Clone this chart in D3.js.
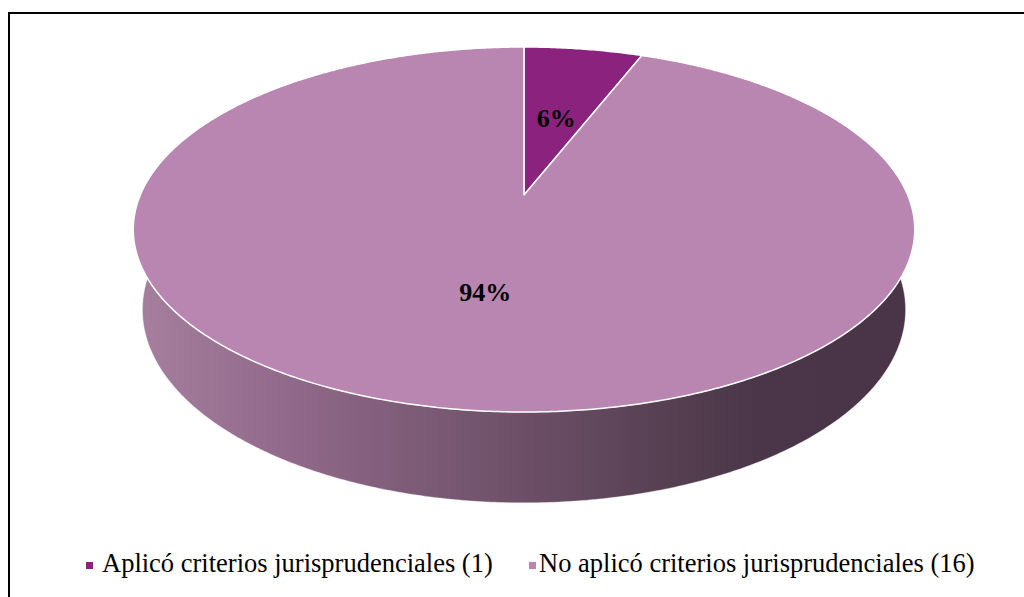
<!DOCTYPE html>
<html>
<head>
<meta charset="utf-8">
<script src="https://cdn.jsdelivr.net/npm/d3@7"></script>
<style>
  html, body { margin: 0; padding: 0; background: #fff; }
  svg { display: block; }
</style>
</head>
<body>
<svg id="pie3d" width="1024" height="597"></svg>
<script>
// ---- data ----
const categories = ["Aplicó criterios jurisprudenciales", "No aplicó criterios jurisprudenciales"];
const counts = [1, 16];
const percentLabels = ["6%", "94%"];
const topColors = ["#8B237E", "#B985B1"];

// ---- layout / projection ----
const FONT = '"Liberation Serif"';
const svg = d3.select("#pie3d");
const cx = 524, cy = 195;
const phi = 27.3 * Math.PI / 180;
const sn = Math.sin(phi), cs = Math.cos(phi);
const Dcam = 5.29 * cs;
const f = 148 * (Dcam + cs) / sn;
const hgt = 0.237;

// project a point on the pie (radius r, angle a clockwise from back, height y)
function project(r, a, y) {
  const x = r * Math.sin(a), z = -r * Math.cos(a);
  const yc = z * sn - y * cs;
  const dc = Dcam - z * cs - y * sn;
  return [cx + f * x / dc, cy + f * yc / dc];
}

const pie = d3.pie().sort(null).value(d => d)(counts);

// frame
svg.append("rect").attr("x", 9).attr("y", 13).attr("width", 1040).attr("height", 620)
  .attr("fill", "none").attr("stroke", "#000").attr("stroke-width", 2);

// side gradient
const defs = svg.append("defs");
const grad = defs.append("linearGradient").attr("id", "sideGrad")
  .attr("gradientUnits", "userSpaceOnUse").attr("x1", 133).attr("x2", 915).attr("y1", 0).attr("y2", 0);
[[0, "#A6809F"], [0.2, "#91698A"], [0.4, "#785872"], [0.55, "#674B62"], [0.68, "#564052"], [0.8, "#4B3649"], [1, "#4A3548"]]
  .forEach(([o, c]) => grad.append("stop").attr("offset", o).attr("stop-color", c));

const line = d3.line();
function arcPoints(a0, a1, y, n) {
  const pts = [];
  const steps = Math.max(4, Math.ceil(Math.abs(a1 - a0) / (2 * Math.PI) * n));
  for (let i = 0; i <= steps; i++) pts.push(project(1, a0 + (a1 - a0) * i / steps, y));
  return pts;
}

// side walls
const gSide = svg.append("g");
pie.forEach((p, i) => {
  const top = arcPoints(p.startAngle, p.endAngle, 0, 720);
  const bot = arcPoints(p.endAngle, p.startAngle, -hgt, 720);
  gSide.append("path")
    .attr("d", line(top.concat(bot)) + "Z")
    .attr("fill", "url(#sideGrad)")
    .attr("fill-rule", "nonzero")
    .attr("stroke", "rgba(255,255,255,0.5)")
    .attr("stroke-width", 0.8);
});

// top faces
const gTop = svg.append("g");
pie.forEach((p, i) => {
  const pts = [project(0, 0, 0)].concat(arcPoints(p.startAngle, p.endAngle, 0, 720));
  gTop.append("path")
    .attr("d", line(pts) + "Z")
    .attr("fill", topColors[i])
    .attr("stroke", "#fff")
    .attr("stroke-width", 1.5)
    .attr("stroke-linejoin", "round");
});

// labels
const gLab = svg.append("g");
gLab.selectAll("text").data(pie).join("text")
  .attr("x", p => project(0.5, (p.startAngle + p.endAngle) / 2, 0)[0])
  .attr("y", p => project(0.5, (p.startAngle + p.endAngle) / 2, 0)[1] + 11)
  .attr("text-anchor", "middle")
  .style("font-family", FONT)
  .style("font-weight", "bold")
  .style("font-size", "26px")
  .attr("fill", "#000")
  .text((p, i) => percentLabels[i]);

// legend
const legendX = [86, 529];
const legendTextX = [102, 539];
const legend = svg.append("g");
legend.selectAll("rect").data(categories).join("rect")
  .attr("x", (c, i) => legendX[i]).attr("y", 562).attr("width", 7).attr("height", 7)
  .attr("fill", (c, i) => topColors[i]);
legend.selectAll("text").data(categories).join("text")
  .attr("x", (c, i) => legendTextX[i]).attr("y", 572)
  .style("font-family", FONT)
  .style("font-size", "26.5px")
  .attr("fill", "#000")
  .text((c, i) => `${c} (${counts[i]})`);
</script>
</body>
</html>
